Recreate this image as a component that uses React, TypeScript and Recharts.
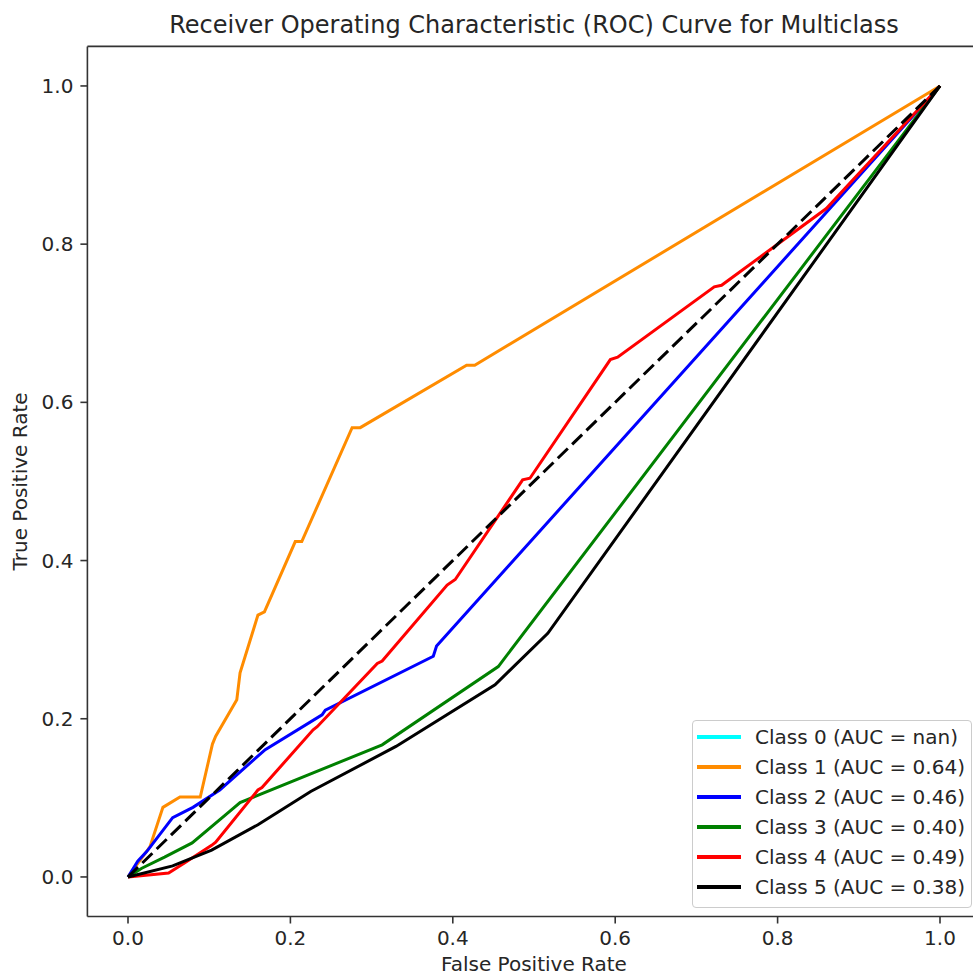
import { LineChart, Line, XAxis, YAxis, ReferenceLine, Legend } from 'recharts';

const classNames = ['Class 0', 'Class 1', 'Class 2', 'Class 3', 'Class 4', 'Class 5'];
const aucLabels = ['nan', '0.64', '0.46', '0.40', '0.49', '0.38'];
const classColors = ['#00ffff', '#ff8c00', '#0000ff', '#008000', '#ff0000', '#000000'];

const axisTicks = [0, 0.2, 0.4, 0.6, 0.8, 1.0];

// class 0 has no positives (AUC = nan), so nothing is drawn for it
const fpr1 = [0, 0.027, 0.043, 0.064, 0.089, 0.104, 0.108, 0.134, 0.138, 0.16, 0.168, 0.206, 0.214, 0.276, 0.286, 0.417, 0.427, 1];
const tpr1 = [0, 0.038, 0.088, 0.101, 0.101, 0.168, 0.178, 0.224, 0.258, 0.331, 0.335, 0.424, 0.424, 0.568, 0.568, 0.647, 0.647, 1];

const fpr2 = [0, 0.012, 0.023, 0.055, 0.08, 0.113, 0.169, 0.239, 0.243, 0.376, 0.38, 1];
const tpr2 = [0, 0.02, 0.032, 0.075, 0.088, 0.11, 0.161, 0.205, 0.211, 0.279, 0.292, 1];

const fpr3 = [0, 0.017, 0.045, 0.079, 0.123, 0.138, 0.313, 0.456, 1];
const tpr3 = [0, 0.011, 0.025, 0.043, 0.081, 0.094, 0.167, 0.266, 1];

const fpr4 = [0, 0.05, 0.07, 0.103, 0.108, 0.16, 0.165, 0.228, 0.233, 0.307, 0.313, 0.393, 0.403, 0.486, 0.495, 0.594, 0.603, 0.722, 0.731, 0.86, 1];
const tpr4 = [0, 0.005, 0.018, 0.04, 0.044, 0.11, 0.113, 0.186, 0.19, 0.27, 0.273, 0.369, 0.376, 0.502, 0.504, 0.654, 0.657, 0.746, 0.748, 0.845, 1];

const fpr5 = [0, 0.055, 0.103, 0.16, 0.225, 0.33, 0.452, 0.517, 1];
const tpr5 = [0, 0.014, 0.034, 0.066, 0.108, 0.165, 0.243, 0.308, 1];

const chanceFpr = [0, 1];
const chanceTpr = [0, 1];

const toPoints = (fpr: number[], tpr: number[]) => fpr.map((x, i) => ({ fpr: x, tpr: tpr[i] }));

const curves = [
  { idx: 1, data: toPoints(fpr1, tpr1) },
  { idx: 2, data: toPoints(fpr2, tpr2) },
  { idx: 3, data: toPoints(fpr3, tpr3) },
  { idx: 4, data: toPoints(fpr4, tpr4) },
  { idx: 5, data: toPoints(fpr5, tpr5) },
];

const FONT = '"DejaVu Sans", sans-serif';
const INK = '#262626';
const SPINE = '#333333';

function RocLegend() {
  return (
    <div
      style={{
        width: 280,
        boxSizing: 'border-box',
        background: 'rgba(255,255,255,0.8)',
        border: '1px solid #cccccc',
        borderRadius: 4,
        padding: '1px 0 5px 4px',
        fontFamily: FONT,
        fontSize: 20,
        color: INK,
      }}
    >
      {classNames.map((name, i) => (
        <div key={name} style={{ display: 'flex', alignItems: 'center', height: 30, whiteSpace: 'nowrap' }}>
          <span style={{ display: 'inline-block', width: 44, height: 3.5, background: classColors[i], marginRight: 14 }} />
          <span>{`${name} (AUC = ${aucLabels[i]})`}</span>
        </div>
      ))}
    </div>
  );
}

export default function App() {
  return (
    <div style={{ position: 'absolute', left: 0, top: 0, width: 973, height: 975, overflow: 'hidden', background: '#fff' }}>
      <div
        style={{
          position: 'absolute', left: 0, top: 10, width: 1068, textAlign: 'center',
          fontFamily: FONT, fontSize: 24, lineHeight: '30px', color: INK,
        }}
      >
        Receiver Operating Characteristic (ROC) Curve for Multiclass
      </div>
      <LineChart width={990} height={975} margin={{ top: 46.4, right: 9.4, left: 0, bottom: 0 }}>
        <XAxis
          dataKey="fpr"
          type="number"
          domain={[-0.05, 1.05]}
          ticks={axisTicks}
          allowDataOverflow
          tickFormatter={(v: number) => v.toFixed(1)}
          height={58.5}
          tickSize={7}
          tickMargin={7}
          stroke={SPINE}
          strokeWidth={1.6}
          tick={{ fontSize: 20, fill: INK, fontFamily: FONT }}
          label={{ value: 'False Positive Rate', position: 'insideBottom', offset: 4, fontSize: 20, fill: INK, fontFamily: FONT }}
        />
        <YAxis
          dataKey="tpr"
          type="number"
          domain={[-0.05, 1.05]}
          ticks={axisTicks}
          allowDataOverflow
          tickFormatter={(v: number) => v.toFixed(1)}
          width={87.4}
          tickSize={7}
          tickMargin={7}
          stroke={SPINE}
          strokeWidth={1.6}
          tick={{ fontSize: 20, fill: INK, fontFamily: FONT }}
          label={{
            value: 'True Positive Rate', angle: -90, position: 'insideLeft', offset: 20,
            fontSize: 20, fill: INK, fontFamily: FONT, style: { textAnchor: 'middle' },
          }}
        />
        <ReferenceLine y={1.05} stroke={SPINE} strokeWidth={1.6} />
        <ReferenceLine x={1.05} stroke={SPINE} strokeWidth={1.6} />
        {curves.map((c) => (
          <Line
            key={c.idx}
            data={c.data}
            dataKey="tpr"
            name={classNames[c.idx]}
            type="linear"
            stroke={classColors[c.idx]}
            strokeWidth={3}
            dot={false}
            activeDot={false}
            isAnimationActive={false}
          />
        ))}
        <Line
          data={toPoints(chanceFpr, chanceTpr)}
          dataKey="tpr"
          type="linear"
          stroke="#000000"
          strokeWidth={3}
          strokeDasharray="14 6"
          dot={false}
          activeDot={false}
          legendType="none"
          isAnimationActive={false}
        />
        <Legend
          layout="vertical"
          align="center"
          verticalAlign="middle"
          content={() => <RocLegend />}
          wrapperStyle={{ left: 692, top: 720, width: 280, height: 'auto' }}
        />
      </LineChart>
    </div>
  );
}
